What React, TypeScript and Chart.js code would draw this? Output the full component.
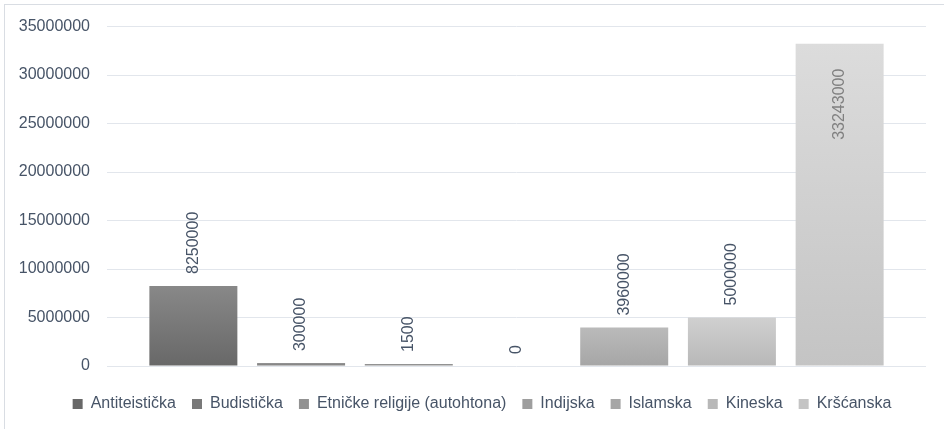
import React, { useEffect, useRef } from "react";
import { Chart, registerables } from "chart.js";

Chart.register(...registerables);

const seriesNames = [
  "Antiteistička",
  "Budistička",
  "Etničke religije (autohtona)",
  "Indijska",
  "Islamska",
  "Kineska",
  "Kršćanska",
];
const seriesValues = [8250000, 300000, 1500, 0, 3960000, 5000000, 33243000];
const categories = [""];
const yTicksMax = 35000000;
const yTicksStep = 5000000;

const topColors = ["#888888", "#959595", "#9e9e9e", "#aaaaaa", "#bababa", "#d0d0d0", "#dcdcdc"];
const bottomColors = ["#686868", "#797979", "#858585", "#949494", "#a6a6a6", "#b8b8b8", "#c4c4c4"];
const midColors = ["#727272", "#858585", "#929292", "#9e9e9e", "#afafaf", "#c4c4c4", "#d0d0d0"];

const FONT = '"Liberation Sans", Arial, sans-serif';
const TEXT = "#475467";

const borderPlugin = {
  id: "outerBorder",
  beforeDraw(chart: any) {
    const c = chart.ctx;
    c.save();
    c.fillStyle = "#ffffff";
    c.fillRect(0, 0, chart.width, chart.height);
    c.strokeStyle = "#d9dde3";
    c.lineWidth = 1;
    c.strokeRect(4.5, 4.5, chart.width + 20, chart.height + 20);
    c.restore();
  },
};

const legendShiftPlugin = {
  id: "legendShift",
  afterLayout(chart: any) {
    if (chart.legend) {
      chart.legend.left += 15;
      chart.legend.right += 15;
    }
  },
};

const labelPlugin = {
  id: "barValueLabels",
  afterDatasetsDraw(chart: any) {
    const c = chart.ctx;
    const area = chart.chartArea;
    c.save();
    c.font = `16px ${FONT}`;
    c.textBaseline = "middle";
    chart.data.datasets.forEach((ds: any, i: number) => {
      const meta = chart.getDatasetMeta(i);
      const el = meta.data[0];
      if (!el) return;
      const text = String(ds.data[0]);
      const w = c.measureText(text).width;
      const base = chart.scales.y.getPixelForValue(0);
      const top = Math.min(el.y, base);
      c.save();
      if (top - 12 - w < area.top) {
        c.translate(el.x, top + 25);
        c.rotate(-Math.PI / 2);
        c.textAlign = "right";
        c.fillStyle = "#808080";
      } else {
        c.translate(el.x, top - 12);
        c.rotate(-Math.PI / 2);
        c.textAlign = "left";
        c.fillStyle = TEXT;
      }
      c.fillText(text, 0, 0);
      c.restore();
    });
    c.restore();
  },
};

export default function App() {
  const ref = useRef<HTMLCanvasElement | null>(null);

  useEffect(() => {
    if (!ref.current) return;
    const datasets = seriesNames.map((name, i) => ({
      label: name,
      data: [seriesValues[i]],
      borderWidth: 0,
      minBarLength: seriesValues[i] > 0 ? 2 : 0,
      categoryPercentage: 0.9206,
      barPercentage: 0.817,
      backgroundColor: (ctx: any) => {
        if (ctx.type !== "data") return midColors[i];
        const chart = ctx.chart;
        const ys = chart.scales.y;
        if (!ys) return midColors[i];
        const top = ys.getPixelForValue(ctx.raw);
        const base = ys.getPixelForValue(0);
        if (!isFinite(top) || !isFinite(base) || Math.abs(base - top) < 1) return midColors[i];
        const g = chart.ctx.createLinearGradient(0, top, 0, base);
        g.addColorStop(0, topColors[i]);
        g.addColorStop(1, bottomColors[i]);
        return g;
      },
    }));

    const chart = new Chart(ref.current, {
      type: "bar",
      data: { labels: categories, datasets },
      options: {
        animation: false,
        responsive: false,
        maintainAspectRatio: false,
        layout: { padding: { left: 8, right: 18, top: 26, bottom: 7 } },
        scales: {
          x: {
            display: true,
            grid: { display: false },
            border: { display: false },
            ticks: { display: false },
            afterFit: (s: any) => {
              s.height = 14;
            },
          },
          y: {
            min: 0,
            max: yTicksMax,
            border: { display: false },
            grid: { color: "#e2e6ec", lineWidth: 1, drawTicks: false },
            ticks: {
              stepSize: yTicksStep,
              padding: 17,
              color: TEXT,
              font: { family: FONT, size: 16 },
              callback: (v: any) => String(v),
            },
            afterFit: (s: any) => {
              s.width = 99;
            },
          },
        },
        plugins: {
          legend: {
            position: "bottom",
            labels: {
              boxWidth: 10,
              boxHeight: 10,
              padding: 16,
              color: TEXT,
              font: { family: FONT, size: 16 },
            },
          },
          tooltip: { enabled: false },
        },
      },
      plugins: [borderPlugin, legendShiftPlugin, labelPlugin],
    });
    return () => chart.destroy();
  }, []);

  return (
    <div style={{ position: "absolute", left: 0, top: 0, width: 944, height: 429 }}>
      <canvas ref={ref} width={944} height={429} style={{ display: "block" }} />
    </div>
  );
}
